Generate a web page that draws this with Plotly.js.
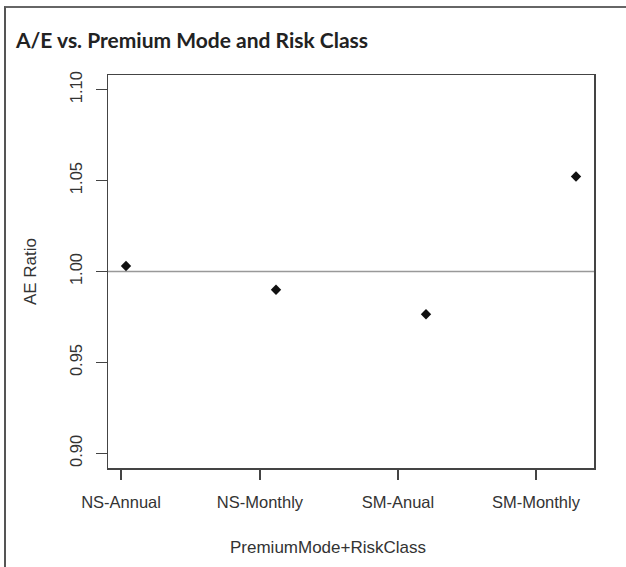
<!DOCTYPE html>
<html>
<head>
<meta charset="utf-8">
<script src="https://cdn.plot.ly/plotly-3.0.1.min.js"></script>
<style>
  html, body { margin: 0; padding: 0; background: #fff; }
  #wrap { position: relative; width: 626px; height: 567px; overflow: hidden; }
  #chart { position: absolute; left: 0; top: 0; width: 626px; height: 567px; }
  #frame { position: absolute; left: 4px; top: 6px; width: 640px; height: 600px;
           border-left: 2px solid #555; border-top: 2px solid #666; pointer-events: none; }
</style>
</head>
<body>
<div id="wrap">
  <div id="chart"></div>
  <div id="frame"></div>
</div>
<script>
// ---- data ----
const categories = ["NS-Annual", "NS-Monthly", "SM-Anual", "SM-Monthly"];
const xPositions = [1, 2, 3, 4];
const aeRatio = [1.003, 0.990, 0.9765, 1.0522];
const tickPositions = [0.967, 1.893, 2.813, 3.733];
const yTickValues = [0.90, 0.95, 1.00, 1.05, 1.10];
const yTickLabels = ["0.90", "0.95", "1.00", "1.05", "1.10"];
const referenceLine = 1.0;

const tickFont = { family: "Liberation Sans, Arial, sans-serif", size: 16.5, color: "#333" };
const titleFont = { family: "Liberation Sans, Arial, sans-serif", size: 17, color: "#333" };

const trace = {
  type: "scatter",
  mode: "markers",
  x: xPositions,
  y: aeRatio,
  marker: { symbol: "diamond", size: 8, color: "#111" },
  hoverinfo: "x+y",
  showlegend: false
};

const layout = {
  width: 626,
  height: 567,
  margin: { l: 108, r: 32, t: 75, b: 99 },
  paper_bgcolor: "#fff",
  plot_bgcolor: "#fff",
  title: {
    text: "A/E vs. Premium Mode and Risk Class",
    font: { family: "Lato, Open Sans, sans-serif", size: 21, color: "#222", weight: 700 },
    xref: "container", yref: "container",
    x: 16 / 626, xanchor: "left",
    y: 1 - 41 / 567, yanchor: "middle"
  },
  xaxis: {
    range: [0.88, 4.12],
    tickmode: "array",
    tickvals: tickPositions,
    ticktext: categories,
    ticks: "outside",
    ticklen: 10,
    tickwidth: 1.3,
    tickcolor: "#444",
    showline: true,
    mirror: true,
    linecolor: "#444",
    linewidth: 1.5,
    showgrid: false,
    zeroline: false,
    tickfont: tickFont,
    ticklabelstandoff: 9
  },
  yaxis: {
    range: [0.892, 1.108],
    tickmode: "array",
    tickvals: yTickValues,
    ticktext: yTickLabels,
    tickangle: -90,
    ticks: "outside",
    ticklen: 11,
    tickwidth: 1.3,
    tickcolor: "#444",
    showline: true,
    mirror: true,
    linecolor: "#444",
    linewidth: 1.5,
    showgrid: false,
    zeroline: false,
    tickfont: tickFont,
    ticklabelstandoff: 7,
    title: { text: "AE Ratio", font: titleFont, standoff: 26 }
  },
  annotations: [{
    text: "PremiumMode+RiskClass",
    xref: "paper", yref: "paper",
    x: (328 - 108) / 486, y: (468 - 547) / 393,
    xanchor: "center", yanchor: "middle",
    showarrow: false,
    font: titleFont
  }],
  shapes: [{
    type: "line",
    xref: "paper", x0: 0, x1: 1,
    yref: "y", y0: referenceLine, y1: referenceLine,
    line: { color: "#999", width: 1.5 },
    layer: "below"
  }]
};

Plotly.newPlot("chart", [trace], layout, { displayModeBar: false, staticPlot: true });
</script>
</body>
</html>
